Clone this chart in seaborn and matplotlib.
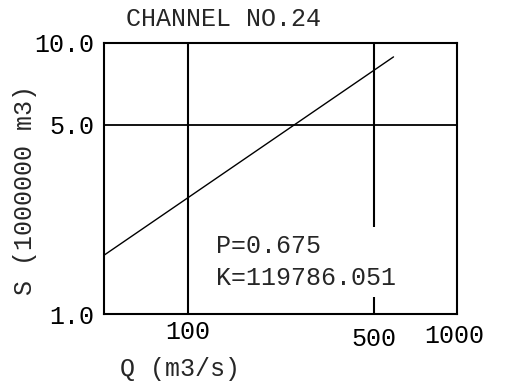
import numpy as np
import pandas as pd
import matplotlib
matplotlib.use("Agg")
import matplotlib.pyplot as plt
import seaborn as sns

# Storage–discharge relation S = K * Q**P for the channel
title = "CHANNEL NO.24"
p_exp = 0.675
k_coef = 119786.051
q_range = [48.6, 590.0]          # discharge span of the fitted line (m3/s)
x_ticks = [100, 500, 1000]
x_tick_labels = ["100", "500", "1000"]
y_ticks = [1.0, 5.0, 10.0]
y_tick_labels = ["1.0", "5.0", "10.0"]
x_grid = [100, 500]
y_grid = [5.0]

q = np.array(q_range)
s = k_coef * q ** p_exp / 1.0e6  # storage in units of 1,000,000 m3
df = pd.DataFrame({"Q": q, "S": s})

sns.set_style("white")
plt.rcParams["font.family"] = ["Liberation Mono", "DejaVu Sans Mono"]
FS = 18
plt.rcParams["font.size"] = FS

fig = plt.figure(figsize=(5.05, 3.84), dpi=100)
ax = fig.add_axes([104 / 505, 1 - 314 / 384, 353 / 505, 271 / 384])

ax.set_xscale("log")
ax.set_yscale("log")
ax.set_xlim(48.6, 1020)
ax.set_ylim(1.0, 10.0)

for xv in x_grid:
    ax.axvline(xv, color="black", lw=1.5, zorder=1)
for yv in y_grid:
    ax.axhline(yv, color="black", lw=1.3, zorder=1)

sns.lineplot(data=df, x="Q", y="S", ax=ax, color="black", lw=1.0, zorder=3)

ax.set_xticks(x_ticks)
ax.set_xticklabels(x_tick_labels)
ax.set_yticks(y_ticks)
ax.set_yticklabels(y_tick_labels)
ax.minorticks_off()
ax.tick_params(axis="both", length=0, colors="black", labelsize=FS)
ax.tick_params(axis="y", pad=7)
for tick, pad in zip(ax.xaxis.get_major_ticks(), [4.3, 9.4, 7.2]):
    tick.set_pad(pad)

for sp in ax.spines.values():
    sp.set_visible(True)
    sp.set_color("black")
    sp.set_linewidth(1.5)

ax.set_xlabel("")
ax.set_ylabel("")

ax.text((216 - 104) / 353, (314 - 262) / 271, f"P={p_exp:.3f}\nK={k_coef:.3f}",
        transform=ax.transAxes, ha="left", va="center", fontsize=FS,
        linespacing=1.4, zorder=4,
        bbox=dict(boxstyle="square,pad=0.3", facecolor="white", edgecolor="none"))

fig.text(224 / 505, 1 - 19 / 384, title, ha="center", va="center", fontsize=FS)
fig.text(180 / 505, 1 - 369 / 384, "Q (m3/s)", ha="center", va="center", fontsize=FS)
fig.text(25 / 505, 1 - 190 / 384, "S (1000000 m3)", ha="center", va="center",
         rotation=90, fontsize=FS)

fig.savefig("out.png", dpi=100, facecolor="white")
